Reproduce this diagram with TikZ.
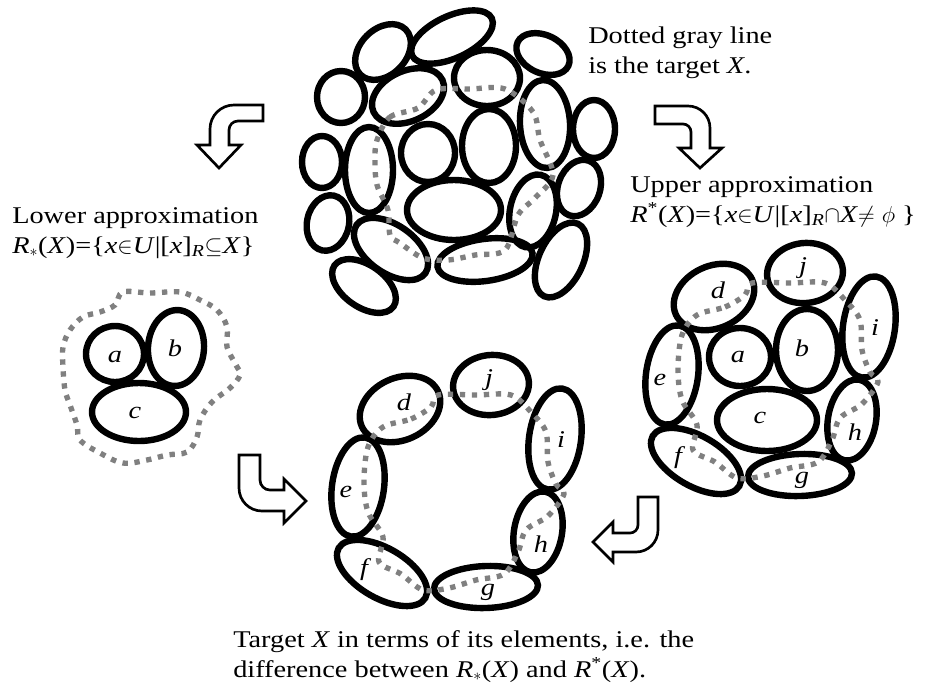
\documentclass[tikz,border=0pt]{standalone}
\usepackage{fontspec}
\setmainfont[FakeStretch=1.18]{Liberation Serif}
\usetikzlibrary{positioning}

\tikzset{
  elem/.style={line width=4.8pt},
  target/.style={line width=4pt,draw=black!50,dash pattern=on 4pt off 5pt},
  bentarrow/.style={draw,line width=2pt,fill=white,line join=miter},
  lbl/.style={font=\fontsize{18}{21}\selectfont\itshape,inner sep=0pt},
  txt/.style={font=\fontsize{18}{22}\selectfont,align=left,anchor=base west,inner sep=0pt}
}

% ring of elements d..j with the target X through them
\newcommand{\elemring}[2]{%
  \begin{scope}[shift={#2}]
    \draw[elem] (714,-297) ellipse [x radius=42,y radius=31,rotate=25];
    \draw[elem] (805,-273) ellipse [x radius=38,y radius=30,rotate=6];
    \draw[elem] (869,-327) ellipse [x radius=26,y radius=51,rotate=-8];
    \draw[elem] (672,-375) ellipse [x radius=26,y radius=50,rotate=-8];
    \draw[elem] (852,-420) ellipse [x radius=24,y radius=41,rotate=-10];
    \draw[elem] (696,-461) ellipse [x radius=50,y radius=25,rotate=-30];
    \draw[elem] (800,-475) ellipse [x radius=52,y radius=21,rotate=2];
    \draw[target] plot[smooth cycle,tension=0.55] coordinates {
      (697,-315) (725,-307) (745,-295) (752,-283) (790,-283) (825,-283)
      (845,-300) (860,-320) (862,-350) (870,-372) (878,-382) (862,-404)
      (840,-418) (832,-440) (818,-462) (790,-468) (763,-476) (737,-478)
      (715,-462) (693,-450) (697,-425) (682,-400) (678,-370) (682,-335)};
    \node[lbl] (#1d) at (718,-290) {d};
    \node[lbl] (#1j) at (803,-268) {j};
    \node[lbl] (#1i) at (875,-328) {i};
    \node[lbl] (#1e) at (660,-380) {e};
    \node[lbl] (#1h) at (855,-432) {h};
    \node[lbl] (#1f) at (678,-458) {f};
    \node[lbl] (#1g) at (802,-480) {g};
  \end{scope}}

\begin{document}
\begin{tikzpicture}[x=0.75pt,y=0.75pt]
  \useasboundingbox (0,0) rectangle (943,-694);

  % all the elementary sets, with the target X
  \foreach \cx/\cy/\rx/\ry/\rot in {383/52/32/23/45, 452/37/44/21/25, 543/54/28/19/-25,
      341/97/24/26/0, 408/96/38/25/25, 487/78/33/28/0, 545/124/25/44/3, 594/129/21/29/0,
      322/162/20/26/0, 369/170/24/43/0, 428/153/27/29/0, 489/146/27/37/0, 579/188/21/29/-20,
      328/223/21/28/-12, 454/210/47/30/0, 533/211/23/37/-12, 391/249/42/24/-35,
      485/260/48/21/8, 561/260/22/40/-25, 364/286/36/21/-35}
    \draw[elem] (\cx,-\cy) ellipse [x radius=\rx,y radius=\ry,rotate=\rot];
  \draw[target] plot[smooth cycle,tension=0.55] coordinates {
    (377,-140) (390,-117) (418,-108) (436,-90) (470,-89) (505,-89) (533,-112)
    (540,-140) (553,-175) (535,-198) (518,-215) (505,-250) (475,-255) (448,-260)
    (423,-258) (400,-243) (390,-235) (388,-210) (377,-185) (375,-160)};

  \node[txt] (dottxt) at (588,-73) {Dotted gray line\\is the target \textit{X}.};

  % lower approximation
  \node[txt] (lowtxt) at (12,-253) {Lower approximation\\
    \textit{R}$_*$(\textit{X})=\{\textit{x}$\in$\textit{U}|[\textit{x}]\textsubscript{\textit{R}}$\subseteq$\textit{X}\}};
  \draw[elem] (115,-354) ellipse [x radius=29,y radius=28];
  \draw[elem] (176,-348) ellipse [x radius=28,y radius=38,rotate=-4];
  \draw[elem] (139,-412) ellipse [x radius=47,y radius=29];
  \draw[target] plot[smooth cycle,tension=0.6] coordinates {
    (123,-292) (150,-293) (180,-292) (200,-300) (217,-310) (227,-327) (227,-347)
    (236,-365) (240,-375) (230,-388) (212,-402) (200,-420) (197,-437) (187,-452)
    (167,-455) (147,-460) (123,-463) (100,-453) (80,-440) (77,-425) (70,-405)
    (65,-390) (63,-367) (63,-347) (70,-330) (83,-317) (100,-312) (115,-305)};
  \node[lbl] (la) at (115,-357) {a};
  \node[lbl] (lb) at (175,-348) {b};
  \node[lbl] (lc) at (135,-413) {c};

  % upper approximation
  \node[txt] (upptxt) at (630,-222) {Upper approximation\\
    \textit{R}\textsuperscript{*}(\textit{X})=\{\textit{x}$\in$\textit{U}|[\textit{x}]\textsubscript{\textit{R}}$\cap$\textit{X}$\neq$~$\phi$~\}};
  \draw[elem] (740,-357) ellipse [x radius=31,y radius=29];
  \draw[elem] (807,-350) ellipse [x radius=31,y radius=41];
  \draw[elem] (767,-420) ellipse [x radius=50,y radius=31];
  \node[lbl] (ua) at (738,-357) {a};
  \node[lbl] (ub) at (802,-348) {b};
  \node[lbl] (uc) at (760,-418) {c};
  \elemring{u}{(0,0)}

  % the difference: target in terms of its elements
  \elemring{m}{(-314,-112)}
  \node[txt] (tgttxt) at (233,-677) {Target \textit{X} in terms of its elements, i.e. the\\
    difference between \textit{R}$_*$(\textit{X}) and \textit{R}\textsuperscript{*}(\textit{X}).};

  % bent arrows
  \draw[bentarrow] (263,-105) -- (234,-105) to[out=180,in=90] (210,-129) -- (210,-145)
    -- (197,-145) -- (219,-168) -- (241,-145) -- (229,-145) -- (229,-130)
    to[out=90,in=180] (238,-121) -- (263,-121) -- cycle;
  \draw[bentarrow] (655,-106) -- (688,-106) to[out=0,in=90] (710,-128) -- (710,-148)
    -- (722,-148) -- (700,-168) -- (679,-148) -- (691,-148) -- (691,-132)
    to[out=90,in=0] (683,-124) -- (655,-124) -- cycle;
  \draw[bentarrow] (239,-455) -- (260,-455) -- (260,-480) to[out=-90,in=180] (270,-490)
    -- (284,-490) -- (284,-479) -- (306,-501) -- (284,-523) -- (284,-511) -- (262,-511)
    to[out=180,in=-90] (239,-488) -- cycle;
  \draw[bentarrow] (638,-497) -- (658,-497) -- (658,-530) to[out=-90,in=0] (636,-552)
    -- (613,-552) -- (613,-562) -- (593,-542) -- (613,-522) -- (613,-533) -- (630,-533)
    to[out=0,in=-90] (638,-525) -- cycle;
\end{tikzpicture}
\end{document}
